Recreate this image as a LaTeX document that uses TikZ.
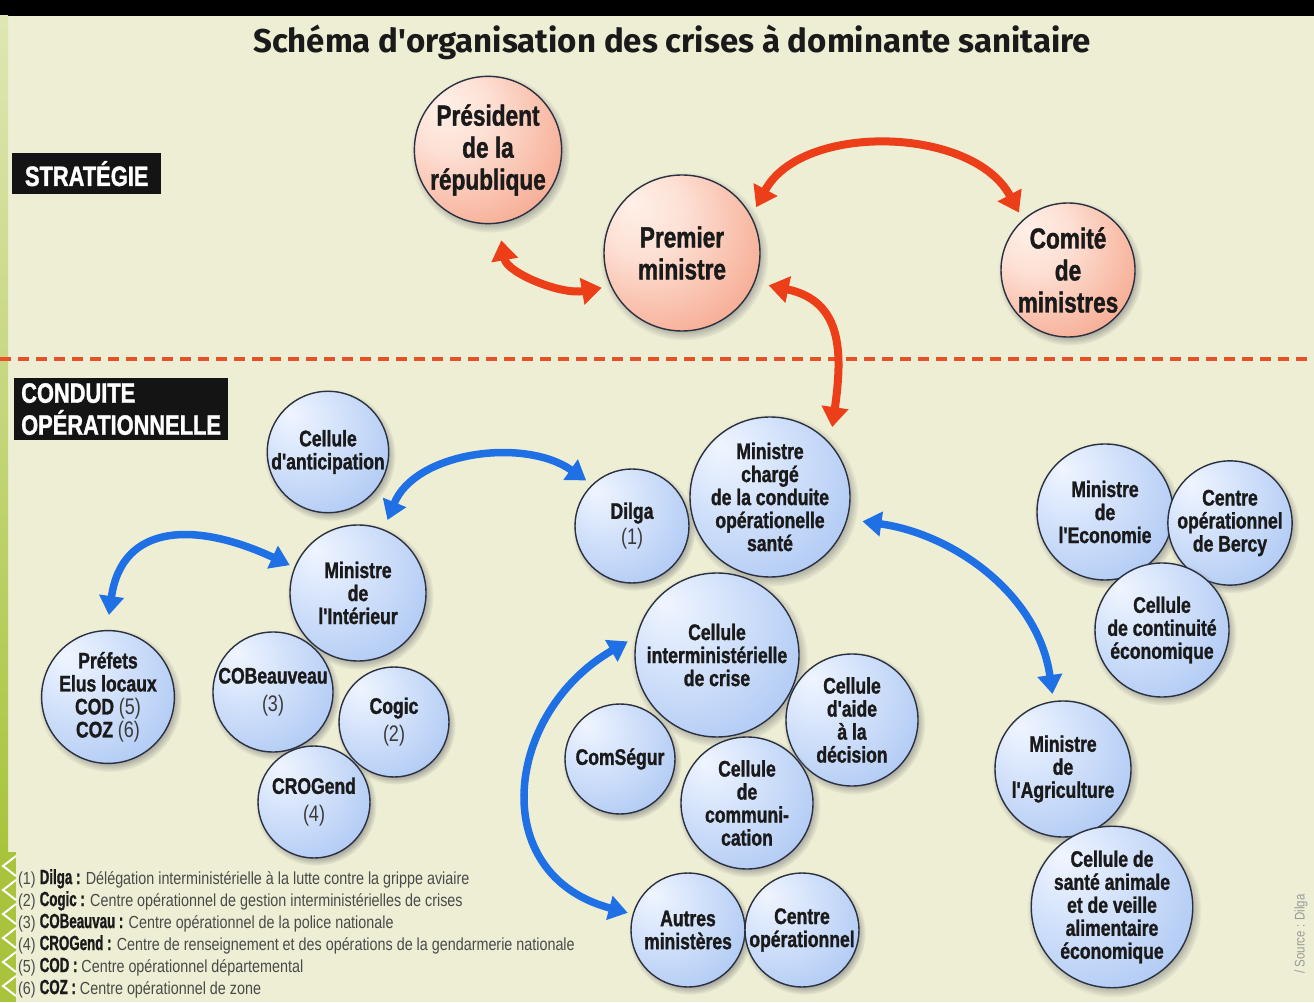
\documentclass[tikz,border=0pt]{standalone}
\usepackage{fontspec}
\setmainfont{Liberation Sans}
\newfontfamily\condfont[FakeStretch=0.78,FakeBold=1.3]{Liberation Sans}
\newfontfamily\numfont[FakeStretch=0.8]{Liberation Sans}
\newfontfamily\legfont[FakeStretch=0.82]{Liberation Sans}
\newfontfamily\legboldfont[FakeStretch=0.65,FakeBold=1]{Liberation Sans}
\newfontfamily\titlefont{Fira Sans}
\usetikzlibrary{arrows.meta,shadows,fadings}

\definecolor{col_eeeed4}{RGB}{238,238,212}
\definecolor{col_ec3e18}{RGB}{236,62,24}
\definecolor{col_e8502a}{RGB}{232,80,42}
\definecolor{col_1f6fe5}{RGB}{31,111,229}
\definecolor{col_2b3140}{RGB}{43,49,64}
\definecolor{col_1a1a1a}{RGB}{26,26,26}
\definecolor{col_3a3a3a}{RGB}{58,58,58}
\definecolor{col_4a4a4a}{RGB}{74,74,74}
\definecolor{col_9a9a9a}{RGB}{154,154,154}
\definecolor{col_141414}{RGB}{20,20,20}
\definecolor{col_a8c43c}{RGB}{168,196,60}
\definecolor{col_dfe6b4}{RGB}{223,230,180}
\definecolor{col_f0f5ff}{RGB}{240,245,255}
\definecolor{col_dce8fc}{RGB}{220,232,252}
\definecolor{col_aac6f3}{RGB}{170,198,243}
\definecolor{col_739de8}{RGB}{115,157,232}
\definecolor{col_5a87de}{RGB}{90,135,222}
\definecolor{col_fff0e8}{RGB}{255,240,232}
\definecolor{col_fde0d4}{RGB}{253,224,212}
\definecolor{col_f5a287}{RGB}{245,162,135}
\definecolor{col_ee6446}{RGB}{238,100,70}
\definecolor{col_e1462d}{RGB}{225,70,45}

\pgfdeclareradialshading{bluesphere}{\pgfpoint{-16bp}{16bp}}{color(0bp)=(col_f0f5ff); color(12bp)=(col_dce8fc); color(42bp)=(col_aac6f3); color(62bp)=(col_739de8); color(74bp)=(col_5a87de)}
\pgfdeclareradialshading{redsphere}{\pgfpoint{-16bp}{16bp}}{color(0bp)=(col_fff0e8); color(14bp)=(col_fde0d4); color(42bp)=(col_f5a287); color(60bp)=(col_ee6446); color(74bp)=(col_e1462d)}

\newcommand{\numtag}[1]{{\numfont\mdseries\color{col_3a3a3a}#1}}
\newcommand{\acr}[1]{{\legboldfont\bfseries\fontsize{20.5}{22}\selectfont\color{col_1a1a1a}#1}}

\tikzset{
  sphere/.style={circle, draw=col_2b3140, line width=1.4pt, inner sep=0pt, align=center,
    text=col_1a1a1a, font=\condfont\bfseries\fontsize{22.5}{23}\selectfont,
    circular drop shadow={shadow xshift=2pt, shadow yshift=-3pt, shadow scale=1.08, opacity=0.7}},
  bluesph/.style={sphere, shade, shading=bluesphere, minimum size=#1},
  redsph/.style={sphere, shade, shading=redsphere, minimum size=#1,
    font=\condfont\bfseries\fontsize{29}{32}\selectfont},
  redlink/.style={draw=col_ec3e18, line width=8pt,
    arrows={Triangle[width=26pt,length=20pt]-Triangle[width=26pt,length=20pt]}},
  bluelink/.style={draw=col_1f6fe5, line width=7.5pt,
    arrows={Triangle[width=24pt,length=19pt]-Triangle[width=24pt,length=19pt]}},
  sectionbox/.style={fill=col_141414, text=white, anchor=north west, align=left,
    inner xsep=7pt, inner ysep=5pt, font=\condfont\bfseries\fontsize{28}{32}\selectfont},
  legendtext/.style={anchor=north west, inner sep=0pt, align=left, text=col_4a4a4a,
    font=\legfont\fontsize{17.5}{22}\selectfont},
}

\begin{document}
\begin{tikzpicture}[x=1pt,y=1pt]
\useasboundingbox (0,0) rectangle (1314,1002);
\fill[col_eeeed4] (0,0) rectangle (1314,1002);
\fill[black] (0,986) rectangle (1314,1002);     %% top bar
\shade[top color=col_dfe6b4, bottom color=col_a8c43c] (0,150) rectangle (8,986);
\fill[col_a8c43c] (0,0) rectangle (16,150);
\draw[white, line width=2pt] (16,146) -- (3,136) -- (16,126) (16,122) -- (3,112) -- (16,102)
  (16,98) -- (3,88) -- (16,78) (16,74) -- (3,64) -- (16,54) (16,50) -- (3,40) -- (16,30)
  (16,26) -- (3,16) -- (16,6);

\node[font=\titlefont\bfseries\fontsize{33}{38}\selectfont, text=col_1a1a1a] (title) at (672,960) {Schéma d'organisation des crises à dominante sanitaire};

\node[sectionbox, minimum width=149pt, minimum height=41pt] (strat) at (12,849) {STRATÉGIE};
\node[sectionbox] (conduite) at (14,624) {CONDUITE\\OPÉRATIONNELLE};

\draw[col_e8502a, line width=4.5pt, dash pattern=on 11pt off 7pt] (0,643) -- (1314,643);     %% separator

%% strategie
\node[redsph=144] (pres) at (488,852) {Président\\de la\\république};
\node[redsph=156] (prem) at (682,749) {Premier\\ministre};
\node[redsph=134] (comite) at (1068,732) {Comité\\de\\ministres};

%% conduite operationnelle
\node[bluesph=120] (anticip) at (328,550) {Cellule\\d'anticipation};
\node[bluesph=114] (dilga) at (632,476) {Dilga\\[3pt]\numtag{(1)}};
\node[bluesph=160] (minsante) at (770,505) {Ministre\\chargé\\de la conduite\\opérationelle\\santé};
\node[bluesph=164] (cic) at (717,347) {Cellule\\interministérielle\\de crise};
\node[bluesph=110] (comsegur) at (620,243) {ComSégur};
\node[bluesph=132] (aide) at (852,282) {Cellule\\d'aide\\à la\\décision};
\node[bluesph=132] (comm) at (747,199) {Cellule\\de\\communi-\\cation};
\node[bluesph=114] (autres) at (688,72) {Autres\\ministères};
\node[bluesph=114] (centreop) at (802,72) {Centre\\opérationnel};
\node[bluesph=110] (cogic) at (394,280) {Cogic\\[5pt]\numtag{(2)}};
\node[bluesph=136] (interieur) at (358,409) {Ministre\\de\\l'Intérieur};
\node[bluesph=120] (cobeau) at (273,310) {COBeauveau\\[5pt]\numtag{(3)}};
\node[bluesph=112] (crogend) at (314,200) {CROGend\\[5pt]\numtag{(4)}};
\node[bluesph=130] (prefets) at (108,305) {Préfets\\Elus locaux\\COD \numtag{(5)}\\COZ \numtag{(6)}};
\node[bluesph=136] (eco) at (1105,490) {Ministre\\de\\l'Economie};
\node[bluesph=114] (bercy) at (1230,479) {Centre\\opérationnel\\de Bercy};
\node[bluesph=134] (continuite) at (1162,372) {Cellule\\de continuité\\économique};
\node[bluesph=136] (agri) at (1063,233) {Ministre\\de\\l'Agriculture};
\node[bluesph=154] (sante) at (1112,95) {Cellule de\\santé animale\\et de veille\\alimentaire\\économique};

%% liens
\draw[redlink, shorten <=17pt, shorten >=9pt] (pres.278) to[out=-80, in=190] (prem.205);
\draw[redlink, shorten <=10pt, shorten >=8pt] (prem.28) to[out=62, in=118] (comite.132);
\draw[redlink, shorten <=14pt, shorten >=16pt] (prem.338) to[out=-12, in=82, looseness=1.3] (minsante.42);
\draw[bluelink, shorten <=10pt, shorten >=7pt] (interieur.68) to[out=68, in=145] (dilga.134);
\draw[bluelink, shorten <=15pt, shorten >=5pt] (prefets.91) to[out=82, in=155, looseness=1.4] (interieur.158);
\draw[bluelink, shorten <=10pt, shorten >=5pt] (cic.167) to[out=210, in=165, looseness=1.4] (autres.164);
\draw[bluelink, shorten <=15pt, shorten >=7pt] (minsante.344) to[out=-8, in=98] (agri.98);

\node[legendtext] (legend) at (18,133) {%
(1) \acr{Dilga :} Délégation interministérielle à la lutte contre la grippe aviaire\\
(2) \acr{Cogic :} Centre opérationnel de gestion interministérielles de crises\\
(3) \acr{COBeauvau :} Centre opérationnel de la police nationale\\
(4) \acr{CROGend :} Centre de renseignement et des opérations de la gendarmerie nationale\\
(5) \acr{COD :} Centre opérationnel départemental\\
(6) \acr{COZ :} Centre opérationnel de zone};
\node[rotate=90, font=\legfont\fontsize{14}{14}\selectfont, text=col_9a9a9a] (source) at (1301,68) {/ Source : Dilga};
\end{tikzpicture}
\end{document}
